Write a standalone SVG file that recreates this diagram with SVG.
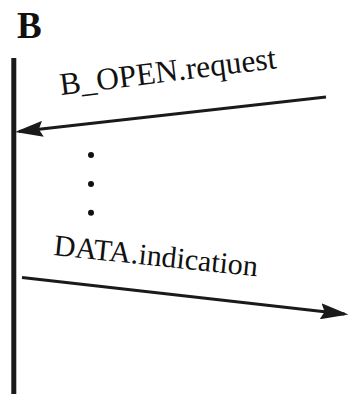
<svg xmlns="http://www.w3.org/2000/svg" width="349" height="394" viewBox="0 0 349 394">
<style>
.lbl{font-family:"Liberation Serif","Times New Roman",serif;fill:#111;}
.msg{stroke:#1a1a1a;stroke-width:3;fill:none;marker-end:url(#ah);}
.life{stroke:#1a1a1a;stroke-width:5;}
.dot{fill:#111;}
</style>
<defs>
<marker id="ah" viewBox="0 0 28 16" refX="24" refY="8" markerWidth="28" markerHeight="16" markerUnits="userSpaceOnUse" orient="auto">
<path d="M0,0 L28,8 L0,16 L4,8 z" fill="#1a1a1a"/>
</marker>
</defs>
<rect width="349" height="394" fill="#fff"/>
<g id="entityB">
<text class="lbl" x="17" y="37.5" font-size="37" font-weight="bold">B</text>
<line class="life" x1="13.8" y1="58" x2="13.8" y2="394"/>
</g>
<g id="ellipsis">
<circle class="dot" cx="91" cy="155" r="3"/>
<circle class="dot" cx="91" cy="184" r="3"/>
<circle class="dot" cx="91" cy="212.7" r="3"/>
</g>
<g id="connectors">
<line class="msg" x1="326" y1="97" x2="19" y2="131.5"/>
<line class="msg" x1="22" y1="277.5" x2="344.5" y2="314"/>
</g>
<g id="labels">
<text class="lbl" x="61" y="95" font-size="31.5" transform="rotate(-7.1 61 95)">B_OPEN.request</text>
<text class="lbl" x="53" y="255" font-size="30" transform="rotate(6 53 255)">DATA.indication</text>
</g>
</svg>
